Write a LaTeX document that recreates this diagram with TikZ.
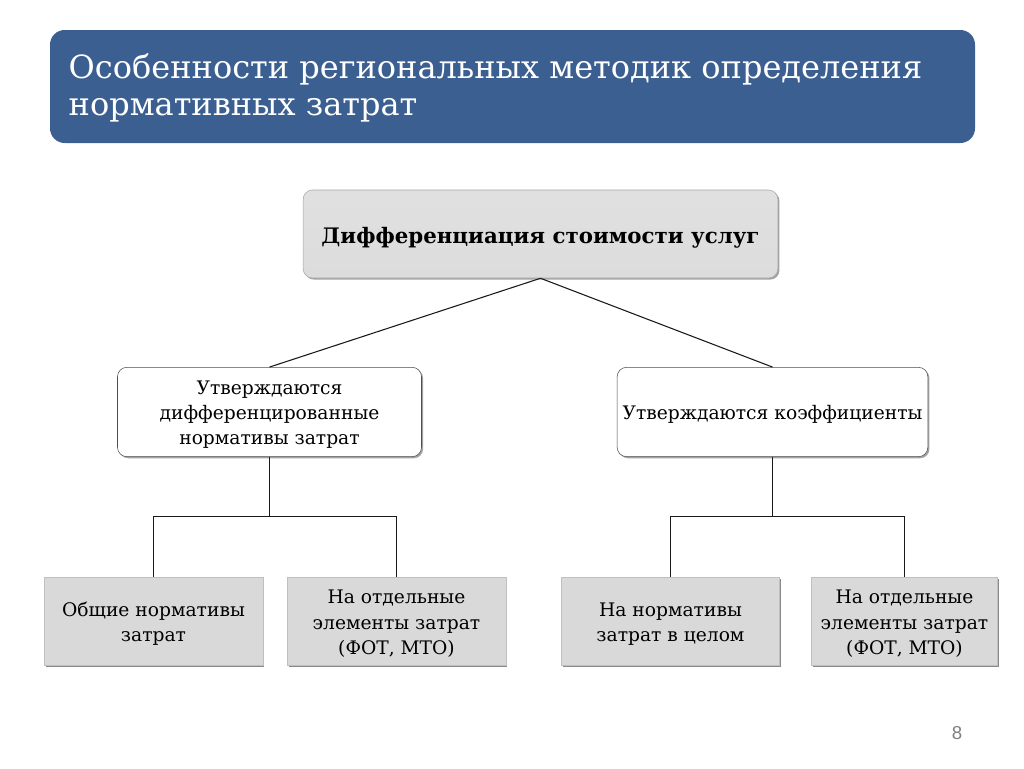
\documentclass[tikz,border=0pt]{standalone}
\usepackage{fontspec}
\setmainfont{DejaVu Serif}
\newfontfamily\numfont{Liberation Sans}
\usetikzlibrary{shadows,positioning}
\definecolor{titleblue}{HTML}{3B5F90}
\definecolor{boxgray}{HTML}{D9D9D9}
\definecolor{topgray}{HTML}{DCDCDC}
\newcommand{\lowerby}[2]{\raisebox{-#1}[\height][\depth]{#2}}
\begin{document}
\begin{tikzpicture}[x=0.75pt,y=-0.75pt,
  titlebox/.style={draw=none,fill=titleblue,rounded corners=11pt,minimum width=693.75pt,minimum height=84.75pt,inner sep=0pt},
  topbox/.style={draw=gray!70,top color=white!88!black,bottom color=topgray,rounded corners=7pt,minimum width=356pt,minimum height=66pt,inner sep=0pt,
     drop shadow={shadow xshift=1.2pt,shadow yshift=-1.2pt,opacity=0.6,fill=black!60},font=\fontsize{16pt}{18pt}\selectfont\bfseries},
  midbox/.style={draw=black!70,fill=white,rounded corners=7pt,minimum height=67pt,inner sep=0pt,align=center,
     drop shadow={shadow xshift=1.2pt,shadow yshift=-1.2pt,opacity=0.6,fill=black!60},font=\fontsize{14pt}{19.2pt}\selectfont},
  lowbox/.style={draw=gray!50,fill=boxgray,minimum height=66pt,inner sep=0pt,align=center,
     drop shadow={shadow xshift=1.2pt,shadow yshift=-1.2pt,opacity=0.7,fill=black!65},font=\fontsize{14pt}{19.2pt}\selectfont},
  conn/.style={draw=black!90,line width=0.8pt}]
\useasboundingbox (0,0) rectangle (1024,768);
\fill[white] (0,0) rectangle (1024,768);

\node[titlebox] (title) at (512.5,86.5) {};
\node[anchor=west,text=white,align=left,font=\fontsize{24pt}{28pt}\selectfont] (titletext) at (64,88) {Особенности региональных методик определения\\нормативных затрат};

\node[topbox] (top) at (540.5,234) {\lowerby{3pt}{Дифференциация стоимости услуг}};

\node[midbox,minimum width=228pt] (ml) at (269.5,412) {\lowerby{1.5pt}{\begin{tabular}{@{}c@{}}Утверждаются\\[-0.4pt]дифференцированные\\[-0.4pt]нормативы затрат\end{tabular}}};
\node[midbox,minimum width=233pt] (mr) at (772.5,412) {\lowerby{1.5pt}{Утверждаются коэффициенты}};

\node[lowbox,minimum width=164pt] (b1) at (153.5,621) {\lowerby{2.5pt}{\begin{tabular}{@{}c@{}}Общие нормативы\\[-0.4pt]затрат\end{tabular}}};
\node[lowbox,minimum width=164pt] (b2) at (396.5,621) {\lowerby{2.2pt}{\begin{tabular}{@{}c@{}}На отдельные\\[-0.4pt]элементы затрат\\[-0.4pt](ФОТ, МТО)\end{tabular}}};
\node[lowbox,minimum width=163.5pt] (b3) at (670.5,621) {\lowerby{2.5pt}{\begin{tabular}{@{}c@{}}На нормативы\\[-0.4pt]затрат в целом\end{tabular}}};
\node[lowbox,minimum width=139.5pt] (b4) at (904.5,621) {\lowerby{2.2pt}{\begin{tabular}{@{}c@{}}На отдельные\\[-0.4pt]элементы затрат\\[-0.4pt](ФОТ, МТО)\end{tabular}}};

\draw[conn] (top.south) -- (ml.north);
\draw[conn] (top.south) -- (mr.north);

\coordinate (jl) at (269.5,516.5);
\coordinate (jr) at (772.5,516.5);
\draw[conn] (ml.south) -- (jl);
\draw[conn] (b1.north) |- (jl) -| (b2.north);
\draw[conn] (mr.south) -- (jr);
\draw[conn] (b3.north) |- (jr) -| (b4.north);

\node[text=black!50,font=\numfont\fontsize{14pt}{16pt}\selectfont] (num) at (957,733) {8};
\end{tikzpicture}
\end{document}
